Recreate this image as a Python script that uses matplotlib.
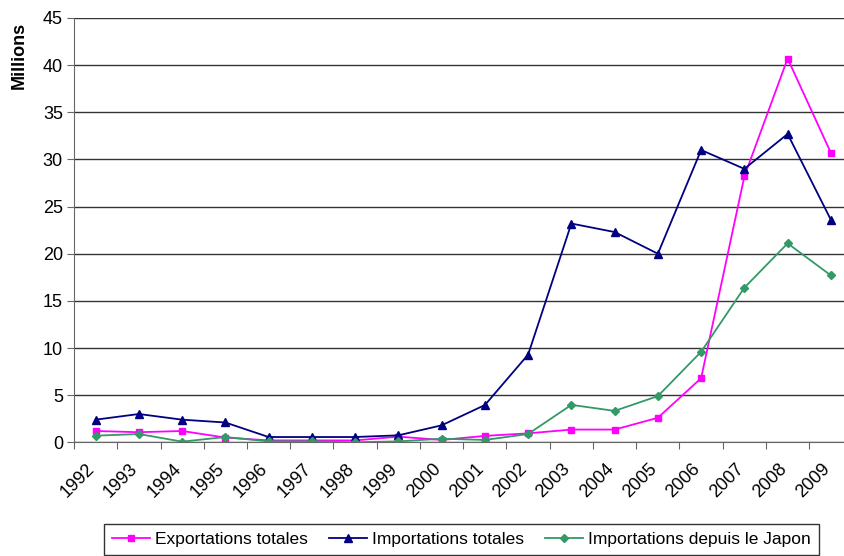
import numpy as np
import matplotlib.pyplot as plt

plt.rcParams['font.family'] = ['Liberation Sans', 'DejaVu Sans']

years = [str(y) for y in range(1992, 2010)]
exports = [1.2, 1.07, 1.2, 0.5, 0.2, 0.2, 0.2, 0.6, 0.25, 0.68, 0.95, 1.35, 1.35, 2.6,
           6.8, 28.2, 40.7, 30.7]
imports = [2.4, 3.0, 2.4, 2.1, 0.56, 0.56, 0.56, 0.74, 1.8, 3.95, 9.3, 23.2, 22.3, 20.0,
           31.0, 29.0, 32.7, 23.6]
japan = [0.7, 0.88, 0.07, 0.56, 0.1, 0.1, 0.0, 0.1, 0.38, 0.25, 0.88, 3.97, 3.33, 4.9,
         9.6, 16.4, 21.1, 17.7]

fig = plt.figure(figsize=(8.45, 5.56), dpi=100)
ax = fig.add_axes([74 / 845, (556 - 442.3) / 556, 778.5 / 845, 424.3 / 556])

x = np.arange(len(years)) + 0.5
ax.plot(x, exports, color='#FF00FF', marker='s', ms=5, lw=1.3, label='Exportations totales')
ax.plot(x, imports, color='#000080', marker='^', ms=6, lw=1.3, label='Importations totales')
ax.plot(x, japan, color='#339966', marker='D', ms=4, lw=1.3, label='Importations depuis le Japon')

ax.set_xlim(0, len(years))
ax.set_ylim(0, 45)
ax.set_yticks(np.arange(0, 46, 5))
ax.yaxis.grid(True, color='#333333', lw=1)
ax.set_axisbelow(True)

ax.set_xticks(np.arange(len(years) + 1))
ax.set_xticklabels([])
ax.set_xticks(np.arange(len(years)) + 0.28, minor=True)
ax.set_xticklabels(years, minor=True, rotation=45, ha='right', va='top',
                   rotation_mode='anchor', fontsize=13)
ax.tick_params(axis='x', which='minor', length=0, pad=13)
ax.tick_params(axis='x', which='major', length=5, color='#666666', direction='out')
ax.tick_params(axis='y', length=5, color='#666666', labelsize=13, pad=3)

for s in ['top', 'right']:
    ax.spines[s].set_visible(False)
ax.spines['left'].set_color('#666666')
ax.spines['bottom'].set_color('#666666')

fig.text(19 / 845, 1 - 55 / 556, 'Millions', rotation=90, ha='center', va='center',
         fontsize=13, fontweight='bold')

leg = fig.legend(loc='upper center', bbox_to_anchor=(461.5 / 845, 1 - 524 / 556), ncol=3,
                 frameon=True, fancybox=False, edgecolor='black', fontsize=12.5,
                 handlelength=2.2, handletextpad=0.3, columnspacing=1.2,
                 borderpad=0.45, borderaxespad=0)
leg.get_frame().set_linewidth(1)

fig.savefig('out.png', dpi=100)
